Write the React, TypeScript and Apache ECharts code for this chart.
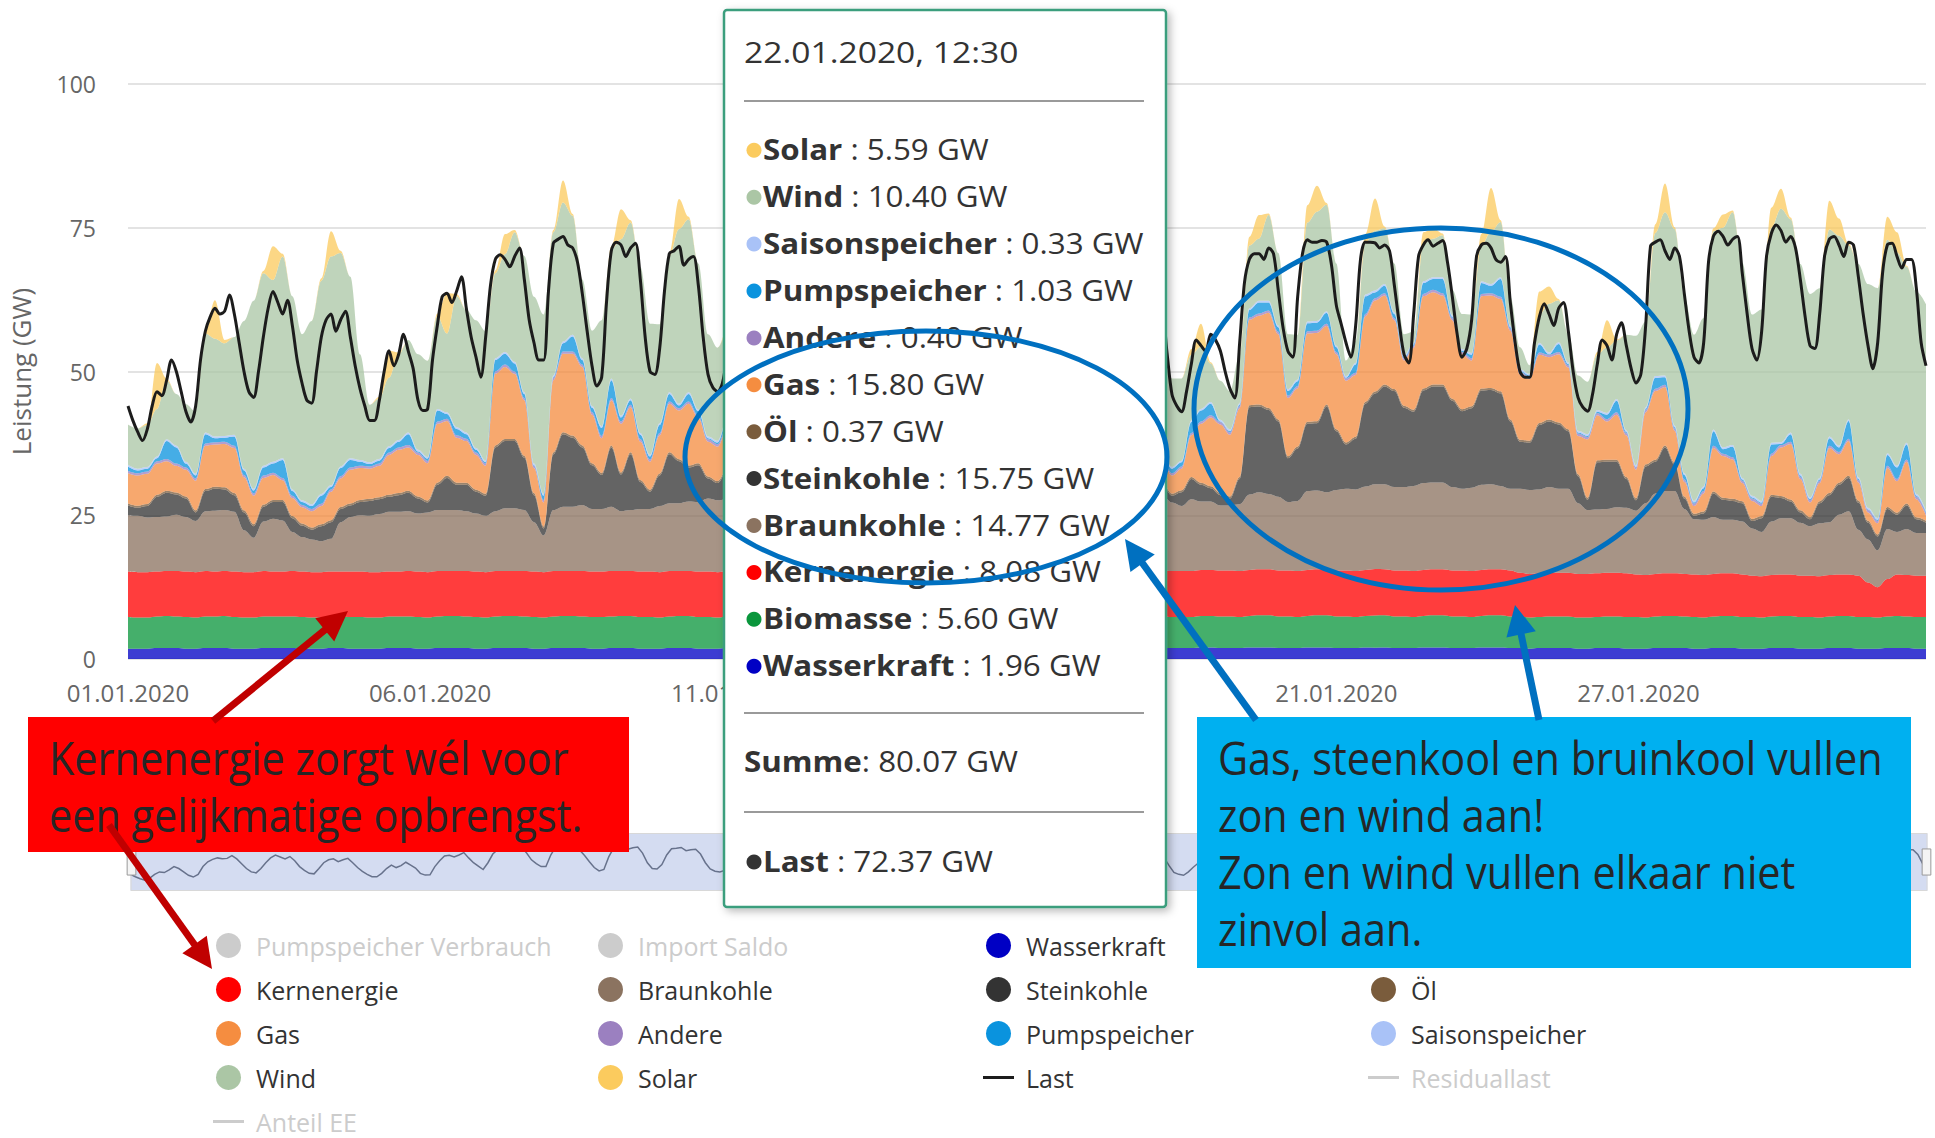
import React, { useEffect, useRef } from 'react';
import * as echarts from 'echarts';

const FONT = '"Open Sans", "Noto Sans", sans-serif';

// ---------- axis data ----------
const STEP_H = 4;            // hours between samples of the stacked series
const LAST_STEP_H = 2;       // hours between samples of the "Last" line
const X_MAX = 744;           // hours in January 2020
const X_TICK_INTERVAL = 125; // hours between the date ticks
const xTickLabels = ['01.01.2020', '06.01.2020', '11.01.2020', '16.01.2020', '21.01.2020', '27.01.2020'];

// ---------- series values (GW), one row per day: 00,04,08,12,16,20 h ----------
const wasserkraft = [
1.8,1.8,1.8,1.9,1.9,1.9, 1.8,1.8,1.9,1.9,1.9,1.8, 1.8,1.8,1.9,1.9,1.9,1.9, 1.8,1.8,1.8,1.9,1.9,1.8,
1.8,1.8,1.8,1.9,1.9,1.9, 1.8,1.8,1.9,1.9,1.9,1.9, 1.8,1.8,1.9,1.9,1.9,1.9, 1.8,1.8,1.9,1.9,1.9,1.9,
1.8,1.8,1.9,1.9,1.9,1.8, 1.8,1.8,1.9,1.9,1.9,1.8, 1.8,1.8,1.9,1.9,1.9,1.9, 1.9,1.9,1.9,2.0,2.0,1.9,
1.9,1.9,2.0,2.0,2.0,2.0, 1.9,1.9,2.0,2.0,2.0,1.9, 1.9,1.9,2.0,2.0,2.0,1.9, 1.9,1.9,2.0,2.0,2.0,1.9,
1.9,1.9,2.0,2.0,2.0,1.9, 1.9,1.9,1.9,2.0,2.0,1.9, 1.9,1.9,1.9,2.0,2.0,1.9, 1.9,1.9,2.0,2.0,2.0,1.9,
1.9,1.9,2.0,2.0,2.0,1.9, 1.9,1.9,2.0,1.96,2.0,1.9, 1.9,1.9,2.0,2.0,2.0,1.9, 1.9,1.9,2.0,2.0,2.0,1.9,
1.9,1.8,1.9,1.9,1.9,1.9, 1.8,1.8,1.9,1.9,1.9,1.8, 1.8,1.8,1.9,1.9,1.9,1.9, 1.8,1.8,1.9,1.9,1.9,1.8,
1.8,1.8,1.9,1.9,1.9,1.8, 1.8,1.8,1.9,1.9,1.9,1.8, 1.8,1.8,1.9,1.9,1.9,1.8,
1.8];

const biomasse = [
5.5,5.4,5.4,5.5,5.6,5.5, 5.5,5.4,5.5,5.5,5.6,5.5, 5.4,5.4,5.5,5.5,5.5,5.5, 5.5,5.4,5.4,5.5,5.5,5.5,
5.5,5.4,5.4,5.5,5.5,5.5, 5.5,5.4,5.5,5.6,5.6,5.5, 5.5,5.4,5.5,5.6,5.6,5.5, 5.5,5.4,5.5,5.6,5.6,5.5,
5.5,5.5,5.5,5.6,5.6,5.5, 5.5,5.4,5.5,5.6,5.6,5.5, 5.5,5.4,5.5,5.5,5.5,5.5, 5.4,5.4,5.4,5.5,5.5,5.5,
5.5,5.4,5.5,5.6,5.6,5.5, 5.5,5.5,5.5,5.6,5.6,5.5, 5.5,5.4,5.5,5.6,5.6,5.5, 5.5,5.4,5.5,5.6,5.6,5.5,
5.5,5.4,5.5,5.6,5.6,5.5, 5.5,5.4,5.4,5.5,5.5,5.5, 5.4,5.4,5.4,5.5,5.5,5.5, 5.5,5.4,5.5,5.6,5.6,5.5,
5.5,5.4,5.5,5.6,5.6,5.5, 5.5,5.4,5.5,5.60,5.6,5.5, 5.5,5.4,5.5,5.6,5.6,5.5, 5.5,5.4,5.5,5.6,5.6,5.5,
5.5,5.4,5.4,5.5,5.5,5.5, 5.4,5.4,5.4,5.5,5.5,5.5, 5.5,5.4,5.5,5.6,5.6,5.5, 5.5,5.4,5.5,5.6,5.6,5.5,
5.5,5.4,5.5,5.6,5.6,5.5, 5.5,5.4,5.5,5.6,5.6,5.5, 5.5,5.4,5.5,5.6,5.5,5.5,
5.5];

const kernenergie = [
7.9,7.9,7.9,7.8,7.8,7.9, 7.9,7.9,7.9,7.8,7.8,7.9, 7.9,7.9,7.9,7.8,7.8,7.9, 7.9,7.9,7.9,7.8,7.8,7.9,
7.9,7.9,7.9,7.8,7.8,7.9, 7.9,7.9,7.9,7.8,7.8,7.9, 7.9,7.9,7.9,7.8,7.8,7.9, 7.9,7.9,7.9,7.8,7.8,7.9,
7.9,7.9,7.9,7.8,7.8,7.9, 7.9,7.9,7.9,7.8,7.8,7.9, 7.9,7.9,7.9,7.8,7.8,7.9, 8.0,8.0,8.0,8.0,8.0,8.0,
8.0,8.0,8.0,8.0,8.0,8.0, 8.0,8.0,8.0,8.0,8.0,8.0, 8.0,8.0,8.0,8.0,8.0,8.0, 8.0,8.0,8.0,8.0,8.0,8.0,
8.0,8.0,8.0,8.0,8.0,8.0, 8.0,8.0,8.0,8.0,8.0,8.0, 8.0,8.0,8.0,8.0,8.0,8.0, 8.0,8.0,8.0,8.0,8.0,8.0,
8.0,8.0,8.0,8.0,8.0,8.0, 8.0,8.0,8.0,8.08,8.0,8.0, 8.0,8.0,8.0,8.0,8.0,8.0, 8.0,8.0,8.0,8.0,8.0,8.0,
7.6,7.6,7.6,7.6,7.6,7.6, 7.6,7.6,7.6,7.6,7.6,7.6, 7.4,7.4,7.4,7.4,7.4,7.4, 7.4,7.4,7.4,7.4,7.4,7.4,
7.2,7.2,7.2,7.2,7.2,7.2, 7.2,7.2,7.2,7.2,7.2,7.2, 6.0,5.3,6.5,7.2,7.2,7.2,
7.2];

const braunkohle = [
9.8,9.8,9.5,9.5,9.5,9.8, 9.5,8.9,10.4,10.6,10.6,10.4, 7.3,6.0,8.6,9.2,8.9,6.8, 6.0,5.7,5.4,5.7,8.6,9.5,
9.8,9.8,10.1,10.4,10.4,10.4, 10.1,10.4,10.6,10.6,10.6,10.4, 10.1,9.8,10.4,10.9,10.9,10.6, 8.6,6.4,10.6,11.2,11.2,11.5,
10.9,10.9,11.2,10.4,10.6,10.9, 10.9,11.5,11.8,11.8,12.1,12.1, 12.7,12.5,12.5,12.6,12.4,12.3, 11.5,11.0,11.2,11.5,11.6,11.8,
12.0,12.2,13.0,13.3,13.2,13.0, 13.0,13.1,13.5,13.6,13.5,13.2, 13.1,13.0,13.4,13.6,13.5,13.3, 13.0,12.9,13.3,13.5,13.4,13.1,
12.8,12.6,13.0,13.2,13.0,12.7, 12.5,12.2,12.6,12.8,12.9,13.1, 11.9,11.3,12.5,11.9,11.9,11.3, 11.3,11.6,13.1,13.4,13.1,12.8,
11.9,12.2,13.7,13.7,13.4,14.0, 14.2,14.2,14.5,14.77,14.8,14.5, 14.5,14.8,15.1,15.1,15.1,14.5, 14.2,14.5,14.8,14.8,14.5,14.2,
14.6,14.6,14.6,14.9,14.6,14.6, 12.3,11.1,11.1,11.1,11.4,11.4, 11.1,12.5,14.0,14.3,14.3,11.3, 9.6,9.6,9.9,9.3,9.3,9.2,
8.2,7.7,9.3,9.8,9.8,9.2, 8.6,9.2,9.2,10.4,11.0,8.0, 7.5,6.4,8.7,7.4,8.0,7.4,
7.4];

const steinkohle = [
1.7,1.4,2.0,3.5,4.1,3.5, 3.2,1.5,3.5,3.8,3.6,2.9, 3.1,2.0,2.6,2.9,3.2,2.4, 2.0,1.7,2.6,2.9,2.3,2.0,
2.3,2.6,2.6,2.6,2.9,3.2, 2.6,1.7,4.4,5.6,4.4,4.6, 3.8,3.5,11.1,11.7,11.7,9.1, 4.7,1.2,9.7,12.6,12.0,10.0,
7.6,5.9,10.3,6.4,9.7,4.7, 3.0,5.3,8.5,7.3,5.9,6.4, 3.5,3.0,5.0,6.0,5.5,4.5, 3.0,2.5,3.0,4.0,4.5,4.0,
3.5,4.5,10.0,12.0,12.0,10.0, 6.0,7.0,12.5,14.0,13.5,11.0, 7.0,7.5,13.0,14.0,13.5,11.0, 7.0,7.0,12.5,13.5,13.0,10.5,
6.5,6.5,11.5,12.5,12.0,9.0, 4.5,3.5,4.0,4.5,4.0,1.7, 1.2,2.4,3.5,2.9,2.3,1.8, 1.2,4.4,15.2,14.9,14.6,13.1,
7.6,9.1,11.7,11.7,14.9,10.2, 7.7,8.8,14.4,15.75,17.0,16.7, 13.8,12.9,16.1,16.7,16.7,15.0, 13.5,13.8,16.4,16.4,16.1,11.7,
8.2,8.2,11.2,11.4,11.2,10.0, 4.7,1.8,8.2,8.2,7.9,5.0, 1.8,6.4,5.5,7.6,4.6,1.8, 0.6,1.1,4.1,3.5,3.3,3.2,
1.3,2.4,4.3,3.5,2.9,1.8, 1.2,3.5,4.7,5.2,5.8,4.7, 2.9,2.4,3.5,3.0,4.1,2.4,
1.8];

const oel = [
0.35,0.35,0.35,0.35,0.35,0.35, 0.35,0.35,0.35,0.35,0.35,0.35, 0.35,0.35,0.35,0.35,0.35,0.35, 0.35,0.35,0.35,0.35,0.35,0.35,
0.35,0.35,0.35,0.35,0.35,0.35, 0.35,0.35,0.35,0.35,0.35,0.35, 0.35,0.35,0.35,0.35,0.35,0.35, 0.35,0.35,0.35,0.35,0.35,0.35,
0.35,0.35,0.35,0.35,0.35,0.35, 0.35,0.35,0.35,0.35,0.35,0.35, 0.35,0.35,0.35,0.35,0.35,0.35, 0.35,0.35,0.35,0.35,0.35,0.35,
0.35,0.35,0.35,0.35,0.35,0.35, 0.35,0.35,0.35,0.35,0.35,0.35, 0.35,0.35,0.35,0.35,0.35,0.35, 0.35,0.35,0.35,0.35,0.35,0.35,
0.35,0.35,0.35,0.35,0.35,0.35, 0.35,0.35,0.35,0.35,0.35,0.35, 0.35,0.35,0.35,0.35,0.35,0.35, 0.35,0.35,0.35,0.35,0.35,0.35,
0.35,0.35,0.35,0.35,0.35,0.35, 0.35,0.35,0.35,0.37,0.35,0.35, 0.35,0.35,0.35,0.35,0.35,0.35, 0.35,0.35,0.35,0.35,0.35,0.35,
0.35,0.35,0.35,0.35,0.35,0.35, 0.35,0.35,0.35,0.35,0.35,0.35, 0.35,0.35,0.35,0.35,0.35,0.35, 0.35,0.35,0.35,0.35,0.35,0.35,
0.35,0.35,0.35,0.35,0.35,0.35, 0.35,0.35,0.35,0.35,0.35,0.35, 0.35,0.35,0.35,0.35,0.35,0.35,
0.35];

const gas = [
5.25,5.25,5.25,5.45,5.15,4.65, 4.65,5.15,7.55,7.35,7.55,7.85, 5.75,4.95,4.65,4.35,3.45,3.15, 2.85,2.85,3.15,4.95,4.95,5.85,
5.55,5.25,5.45,6.95,7.55,7.55, 7.25,6.5,10.25,9.55,7.85,7.25, 6.05,4.85,12.45,12.55,11.35,9.65, 4.35,4.15,12.55,13.65,14.25,13.65,
8.45,6.05,7.85,8.45,7.85,6.65, 4.85,6.65,8.45,8.45,10.75,7.85, 6.05,6.0,7.0,8.0,7.5,6.5, 5.5,5.0,5.5,6.0,6.5,6.0,
5.5,6.5,11.0,12.5,12.0,10.0, 8.0,8.5,13.0,14.0,13.5,11.0, 8.5,9.0,13.5,14.0,13.5,11.5, 8.5,8.5,13.0,13.5,13.0,11.0,
8.0,8.0,12.0,12.5,12.0,9.5, 6.0,5.0,5.5,6.0,5.5,3.75, 3.15,3.75,7.25,10.25,11.95,11.95, 10.75,11.95,14.85,15.45,16.55,14.85,
10.15,10.15,15.35,15.35,13.65,13.05, 10.75,10.75,14.85,15.8,15.45,11.95, 7.85,10.75,16.05,16.05,15.45,13.65, 9.55,7.95,16.05,16.05,16.05,15.45,
11.35,10.75,11.85,10.85,11.85,10.75, 6.65,10.15,7.85,6.65,7.85,7.25, 4.95,9.05,11.95,10.15,5.55,2.55, 1.35,3.15,7.55,7.25,6.85,3.15,
3.15,1.75,6.75,8.45,9.65,5.45, 2.55,3.15,7.85,4.95,6.05,3.15, 1.45,1.95,6.75,5.45,7.25,3.15,
0.85];

const andere = [
0.4,0.4,0.4,0.4,0.4,0.4, 0.4,0.4,0.4,0.4,0.4,0.4, 0.4,0.4,0.4,0.4,0.4,0.4, 0.4,0.4,0.4,0.4,0.4,0.4,
0.4,0.4,0.4,0.4,0.4,0.4, 0.4,0.4,0.4,0.4,0.4,0.4, 0.4,0.4,0.4,0.4,0.4,0.4, 0.4,0.4,0.4,0.4,0.4,0.4,
0.4,0.4,0.4,0.4,0.4,0.4, 0.4,0.4,0.4,0.4,0.4,0.4, 0.4,0.4,0.4,0.4,0.4,0.4, 0.4,0.4,0.4,0.4,0.4,0.4,
0.4,0.4,0.4,0.4,0.4,0.4, 0.4,0.4,0.4,0.4,0.4,0.4, 0.4,0.4,0.4,0.4,0.4,0.4, 0.4,0.4,0.4,0.4,0.4,0.4,
0.4,0.4,0.4,0.4,0.4,0.4, 0.4,0.4,0.4,0.4,0.4,0.4, 0.4,0.4,0.4,0.4,0.4,0.4, 0.4,0.4,0.4,0.4,0.4,0.4,
0.4,0.4,0.4,0.4,0.4,0.4, 0.4,0.4,0.4,0.40,0.4,0.4, 0.4,0.4,0.4,0.4,0.4,0.4, 0.4,0.4,0.4,0.4,0.4,0.4,
0.4,0.4,0.4,0.4,0.4,0.4, 0.4,0.4,0.4,0.4,0.4,0.4, 0.4,0.4,0.4,0.4,0.4,0.4, 0.4,0.4,0.4,0.4,0.4,0.4,
0.4,0.4,0.4,0.4,0.4,0.4, 0.4,0.4,0.4,0.4,0.4,0.4, 0.4,0.4,0.4,0.4,0.4,0.4,
0.4];

const pumpspeicher = [
0.8,0.5,0.5,0.5,3.1,2.8, 0.7,0.5,1.6,0.7,0.7,1.6, 0.8,0.5,1.4,1.6,3.1,0.8, 0.5,0.5,1.4,0.4,1.4,1.3,
0.7,0.4,0.5,0.8,1.0,1.9, 0.2,0.4,1.9,0.8,1.1,0.8, 0.5,0.2,2.0,1.9,1.4,0.7, 0.1,0.8,0.1,1.4,2.6,0.8,
0.8,1.4,3.1,0.7,0.8,0.8, 0.5,1.4,1.3,0.5,1.3,0.8, 0.2,0.3,1.0,0.8,1.2,0.8, 0.3,0.2,0.5,0.8,1.0,0.9,
0.3,0.3,1.8,1.0,1.5,1.2, 0.3,0.4,2.0,1.2,1.8,1.0, 0.3,0.3,1.9,1.0,1.6,1.1, 0.3,0.4,2.1,1.1,1.7,1.0,
0.3,0.3,1.8,0.9,1.4,0.8, 0.3,0.2,0.6,0.7,0.9,0.8, 0.8,0.7,1.9,1.9,2.0,0.1, 0.2,0.2,1.3,1.9,1.4,0.8,
0.8,0.8,1.4,1.4,1.9,0.8, 0.1,1.4,3.1,1.03,1.3,0.7, 0.2,0.2,1.9,1.9,2.5,0.2, 0.2,0.6,1.9,1.3,3.1,0.2,
0.2,0.2,1.4,0.1,1.4,0.2, 0.2,0.2,0.2,0.8,2.0,0.2, 0.1,0.2,1.9,1.3,0.2,0.8, 0.2,0.5,2.5,0.8,1.8,0.2,
0.2,0.2,1.6,0.2,1.3,0.2, 0.2,0.2,1.3,0.8,3.1,0.2, 0.1,0.2,1.9,2.0,2.6,0.2,
0.2];

const saisonspeicher = [
0.3,0.3,0.3,0.3,0.3,0.3, 0.3,0.3,0.3,0.3,0.3,0.3, 0.3,0.3,0.3,0.3,0.3,0.3, 0.3,0.3,0.3,0.3,0.3,0.3,
0.3,0.3,0.3,0.3,0.3,0.3, 0.3,0.3,0.3,0.3,0.3,0.3, 0.3,0.3,0.3,0.3,0.3,0.3, 0.3,0.3,0.3,0.3,0.3,0.3,
0.3,0.3,0.3,0.3,0.3,0.3, 0.3,0.3,0.3,0.3,0.3,0.3, 0.3,0.3,0.3,0.3,0.3,0.3, 0.3,0.3,0.3,0.3,0.3,0.3,
0.3,0.3,0.3,0.3,0.3,0.3, 0.3,0.3,0.3,0.3,0.3,0.3, 0.3,0.3,0.3,0.3,0.3,0.3, 0.3,0.3,0.3,0.3,0.3,0.3,
0.3,0.3,0.3,0.3,0.3,0.3, 0.3,0.3,0.3,0.3,0.3,0.3, 0.3,0.3,0.3,0.3,0.3,0.3, 0.3,0.3,0.3,0.3,0.3,0.3,
0.3,0.3,0.3,0.3,0.3,0.3, 0.3,0.3,0.3,0.33,0.3,0.3, 0.3,0.3,0.3,0.3,0.3,0.3, 0.3,0.3,0.3,0.3,0.3,0.3,
0.3,0.3,0.3,0.3,0.3,0.3, 0.3,0.3,0.3,0.3,0.3,0.3, 0.3,0.3,0.3,0.3,0.3,0.3, 0.3,0.3,0.3,0.3,0.3,0.3,
0.3,0.3,0.3,0.3,0.3,0.3, 0.3,0.3,0.3,0.3,0.3,0.3, 0.3,0.3,0.3,0.3,0.3,0.3,
0.3];

const wind = [
7.0,7.0,7.3,8.3,10.3,9.0, 10.0,10.8,17.2,17.0,16.1,17.0, 25.7,32.7,33.5,31.6,35.1,33.6, 28.9,31.9,37.1,39.8,37.1,31.6,
18.4,10.0,10.5,11.9,14.9,16.1, 16.6,16.7,16.1,13.7,22.8,21.3, 22.2,22.5,14.8,17.0,22.5,23.7, 29.0,31.2,24.9,24.2,20.7,13.7,
13.1,18.4,22.5,30.7,30.6,28.9, 22.8,17.2,23.7,30.4,30.1,25.4, 17.8,16.2,15.0,16.0,17.0,18.0, 22.0,22.0,20.0,18.0,17.0,18.0,
20.0,18.0,15.0,13.0,12.0,13.0, 14.0,13.0,11.0,10.0,11.0,12.0, 12.0,12.0,10.0,10.0,11.0,11.0, 11.0,11.0,10.0,11.0,12.0,12.0,
13.0,13.0,13.0,14.0,14.0,15.0, 16.0,16.0,17.0,17.0,17.0,16.1, 15.4,14.3,11.4,10.8,6.7,6.8, 6.7,8.4,10.9,10.8,14.9,12.6,
9.6,7.8,17.2,19.0,18.5,14.3, 2.7,3.8,9.0,10.4,9.7,8.5, 3.7,1.9,6.7,6.7,7.3,4.4, 6.1,6.7,6.2,9.1,9.6,5.0,
3.8,1.5,4.9,8.5,7.3,4.9, 9.6,9.1,9.6,11.4,10.2,16.6, 22.5,14.9,24.9,28.4,34.2,30.7, 28.9,29.3,34.5,38.2,40.5,37.4,
31.5,33.3,37.4,40.6,37.1,36.5, 35.4,33.0,36.0,36.5,30.2,37.1, 38.9,40.0,37.1,37.1,30.6,35.2,
35.9];

const solar = [
0,0,0.3,8.0,0.3,0, 0,0,0.6,6.7,0.6,0, 0,0,0.4,5.9,0.5,0, 0,0,0.4,4.4,0.4,0,
0,0,0.3,4.7,0.3,0, 0,0,0.5,7.0,0.4,0, 0,0,0.5,3.5,0.4,0, 0,0,0.4,3.8,0.3,0,
0,0,0.5,5.2,0.4,0, 0,0,0.5,5.2,0.4,0, 0,0,0.5,4.0,0.4,0, 0,0,0.4,3.0,0.3,0,
0,0,0.4,4.0,0.3,0, 0,0,0.5,5.0,0.4,0, 0,0,0.4,3.5,0.3,0, 0,0,0.5,4.5,0.4,0,
0,0,0.4,4.0,0.3,0, 0,0,0.5,4.5,0.3,0, 0,0,1.0,4.0,0.2,0, 0,0,1.5,4.1,0.3,0,
0,0,3.0,4.5,0.3,0, 0,0,1.5,5.59,0.3,0, 0,0,1.8,1.8,0.3,0, 0,0,2.0,7.6,0.3,0,
0,0,4.0,3.0,0.2,0, 0,0,0.5,4.7,0.2,0, 0,0,1.5,5.0,0.3,0, 0,0,0.5,2.3,0.3,0,
0,0,3.5,3.5,0.3,0, 0,0,5.0,3.0,0.3,0, 0,0,4.0,3.5,0.2,0,
0];

// Last (load), one row per day: every 2 hours
const last = [
44,41.5,39.5,38,40,44,46.5,45.8,48.5,52,50,46.5,
43,41.2,44,52,57,59.5,61,60,60.5,63.3,60,55,
50,46.5,45.5,50,56,61,63.9,62,60,62.4,58,52,
48,45,44.5,50,56,59,60,57,59,60.5,56,51,
47,44,41.5,41.5,45,50,53.6,51,53,56.5,53.5,50.5,
45,43.2,43.5,52,58,63,63.6,62,64,66.5,61,56,
52.5,49,56,65,69.5,70.3,69.5,68.2,70,71.5,66,59,
55,52,52,64,72.3,73,73.5,72,71.5,69,63.5,57,
51,47.5,49,62,71,72.5,72,70,71.5,72.3,66,56,
50,49.5,54,64,70.5,71,71.8,68.5,69.5,70,65,56,
49.5,47.2,46.5,48,53,58,61,60,59,61,59,54,
50,46.5,45,46,49,53,56,55,55,58,56,52,
48,46.5,51,62,70,71,72,70.5,70,71.5,66,58,
54,51.5,54,65,71,72.5,73,71.5,71,72,67,59,
54,52,55,66,72,73,72.5,71,71.5,72,66.5,59,
54,52,55,66,71.5,72.5,72.5,71,71,71.5,66,58.5,
54,51.5,54.5,65,70.5,71.5,71,69.5,69,69,63.5,56.5,
52,49,48.5,52,58,61,62,60.5,61,62,61,53,
46,44,43,46.5,51.3,55.5,54.5,53.5,56.5,55.5,53.6,50,
47,45.4,55,65.5,69.5,70.5,70.5,69.5,71.5,70.5,64,57.5,
53.5,52.5,63,70.5,72.9,72.5,72.5,72.8,72.5,68.5,61.5,58.3,
55,52.5,58,69.5,72.5,72.5,72.37,71.5,72,71,65,58.5,
53,51.5,60,70,72,72.9,71.8,72.3,72.8,69,63,56.5,
52.5,54,59,70,72,72.3,71.5,69.5,69,70,62,55,
50,49,49,55,59.5,61.8,60,58,61,62,57,50,
45.5,43.8,43.1,46,51.3,55.5,54.5,52,56.5,58.5,54.5,50.5,
48,49.5,58,71.8,72.5,72.9,71,69.5,71.5,70,63.5,57,
52.5,51.5,55,69,73.5,74.4,73.5,72,73,73.5,67,60,
54,52,57,70,74,75.5,74.5,72.5,73.5,71.5,66,59.5,
54.5,54,60,70,73,73.5,72,70,72.5,72,66.5,60,
54.5,50.5,55,67,72,72.3,70,68,69.5,69.5,64.5,55,
51];

// tooltip shown in the picture
const tooltipTitle = '22.01.2020, 12:30';
const tooltipIndex = 129;      // 22.01.2020 12:00 in the 4-hour series
const tooltipLastIndex = 258;  // same moment in the 2-hour series
const tooltipSum = 80.07;

const stackSeries = [
  { name: 'Wasserkraft', data: wasserkraft, color: '#0000c4' },
  { name: 'Biomasse', data: biomasse, color: '#0a963c' },
  { name: 'Kernenergie', data: kernenergie, color: '#ff0000' },
  { name: 'Braunkohle', data: braunkohle, color: '#8b7360' },
  { name: 'Steinkohle', data: steinkohle, color: '#333333' },
  { name: 'Öl', data: oel, color: '#7a5c3c' },
  { name: 'Gas', data: gas, color: '#f58d40' },
  { name: 'Andere', data: andere, color: '#9b80c0' },
  { name: 'Pumpspeicher', data: pumpspeicher, color: '#0a93de' },
  { name: 'Saisonspeicher', data: saisonspeicher, color: '#a9c2f7' },
  { name: 'Wind', data: wind, color: '#abc6a5' },
  { name: 'Solar', data: solar, color: '#fbcb5e' },
];

const legendColumns = [
  ['Pumpspeicher Verbrauch', 'Kernenergie', 'Gas', 'Wind', 'Anteil EE'],
  ['Import Saldo', 'Braunkohle', 'Andere', 'Solar'],
  ['Wasserkraft', 'Steinkohle', 'Pumpspeicher', 'Last'],
  ['Biomasse', 'Öl', 'Saisonspeicher', 'Residuallast'],
];
const lineNames = ['Last', 'Residuallast', 'Anteil EE'];
const hiddenNames = ['Pumpspeicher Verbrauch', 'Import Saldo', 'Residuallast', 'Anteil EE'];

function arrow(x1: number, y1: number, x2: number, y2: number, color: string, w: number, headL: number, headW: number, z: number) {
  const dx = x2 - x1, dy = y2 - y1;
  const len = Math.hypot(dx, dy);
  const ux = dx / len, uy = dy / len;
  const bx = x2 - ux * headL, by = y2 - uy * headL;
  const px = -uy, py = ux;
  return [
    { type: 'line', z, shape: { x1, y1, x2: bx + ux * 2, y2: by + uy * 2 }, style: { stroke: color, lineWidth: w } },
    { type: 'polygon', z, shape: { points: [[x2, y2], [bx + px * headW / 2, by + py * headW / 2], [bx - px * headW / 2, by - py * headW / 2]] }, style: { fill: color } },
  ];
}

function buildOption() {
  const series: any[] = [];
  series.push({
    type: 'line', name: 'Last', z: 5,
    data: last.map((v, i) => [i * LAST_STEP_H, v]),
    symbol: 'none', showSymbol: false, smooth: 0.3,
    lineStyle: { color: '#1c1c1c', width: 3 },
    itemStyle: { color: '#1c1c1c' },
    emphasis: { disabled: true },
  });
  stackSeries.forEach((s) => {
    series.push({
      type: 'line', name: s.name, stack: 'erzeugung', z: 2,
      // value first so that the stack is built on the y (GW) dimension
      data: s.data.map((v, i) => [v, i * STEP_H]),
      encode: { x: 1, y: 0 },
      symbol: 'none', showSymbol: false, smooth: 0.35, smoothMonotone: 'x',
      lineStyle: { width: 0, opacity: 0 },
      itemStyle: { color: s.color },
      areaStyle: { color: s.color, opacity: 0.76 },
      emphasis: { disabled: true },
    });
  });
  hiddenNames.forEach((n) => {
    series.push({ type: 'line', name: n, data: [], symbol: 'none', itemStyle: { color: '#999' }, lineStyle: { color: '#999' } });
  });

  const selected: Record<string, boolean> = {};
  hiddenNames.forEach((n) => { selected[n] = false; });

  const colLeft = [213, 598, 983, 1368];
  const legends = legendColumns.map((col, ci) => ({
    orient: 'vertical', left: colLeft[ci], top: 933, height: 260, padding: 0,
    itemWidth: 31, itemHeight: 25, itemGap: 19,
    selected,
    inactiveColor: '#cccccc',
    textStyle: { fontSize: 25, color: '#333', fontFamily: FONT, lineHeight: 25, padding: [0, 0, 0, 7] },
    data: col.map((n) => ({ name: n, icon: lineNames.includes(n) ? 'path://M0,0L31,0L31,3L0,3Z' : 'circle' })),
  }));

  // ----- graphic overlays -----
  const g: any[] = [];
  const tx = 724, ty = 10, tw = 442, th = 897;
  g.push({ type: 'rect', z: 50, shape: { x: tx, y: ty, width: tw, height: th, r: 3 },
    style: { fill: '#ffffff', stroke: '#3b9e7d', lineWidth: 2.5, shadowBlur: 8, shadowColor: 'rgba(0,0,0,0.28)', shadowOffsetX: 3, shadowOffsetY: 3 } });
  g.push({ type: 'text', z: 51, x: 744, y: 51, scaleX: 1.12,
    style: { text: tooltipTitle, fontSize: 30, fontFamily: FONT, fill: '#333', verticalAlign: 'middle', align: 'left' } });
  [101, 713, 812].forEach((yy) => {
    g.push({ type: 'line', z: 51, shape: { x1: 744, y1: yy, x2: 1144, y2: yy }, style: { stroke: '#9a9a9a', lineWidth: 2 } });
  });
  const ttOrder = ['Solar', 'Wind', 'Saisonspeicher', 'Pumpspeicher', 'Andere', 'Gas', 'Öl', 'Steinkohle', 'Braunkohle', 'Kernenergie', 'Biomasse', 'Wasserkraft'];
  const rich = { b: { fontWeight: 'bold', fontSize: 29, fontFamily: FONT, fill: '#333' } };
  const rowScale = 1.08;
  ttOrder.forEach((name, i) => {
    const s = stackSeries.find((q) => q.name === name)!;
    const yy = 149.3 + i * 46.9;
    g.push({ type: 'circle', z: 51, shape: { cx: 754, cy: yy + 1, r: 7.5 }, style: { fill: s.color } });
    g.push({ type: 'text', z: 51, x: 763, y: yy, scaleX: rowScale,
      style: { text: `{b|${name}} : ${s.data[tooltipIndex].toFixed(2)} GW`, rich, fontSize: 29, fontFamily: FONT, fill: '#333', verticalAlign: 'middle', align: 'left' } });
  });
  g.push({ type: 'text', z: 51, x: 744, y: 761, scaleX: rowScale,
    style: { text: `{b|Summe}: ${tooltipSum.toFixed(2)} GW`, rich, fontSize: 29, fontFamily: FONT, fill: '#333', verticalAlign: 'middle', align: 'left' } });
  g.push({ type: 'circle', z: 51, shape: { cx: 754, cy: 862, r: 7.5 }, style: { fill: '#333' } });
  g.push({ type: 'text', z: 51, x: 763, y: 861, scaleX: rowScale,
    style: { text: `{b|Last} : ${last[tooltipLastIndex].toFixed(2)} GW`, rich, fontSize: 29, fontFamily: FONT, fill: '#333', verticalAlign: 'middle', align: 'left' } });

  // ellipses
  g.push({ type: 'ellipse', z: 60, shape: { cx: 926, cy: 457, rx: 241, ry: 126 }, style: { fill: 'rgba(0,0,0,0)', stroke: '#0070c0', lineWidth: 5 } });
  g.push({ type: 'ellipse', z: 60, shape: { cx: 1441, cy: 409, rx: 247, ry: 181 }, style: { fill: 'rgba(0,0,0,0)', stroke: '#0070c0', lineWidth: 5 } });

  // annotation boxes
  g.push({ type: 'rect', z: 70, shape: { x: 28, y: 717, width: 601, height: 135 }, style: { fill: '#ff0000' } });
  ['Kernenergie zorgt wél voor', 'een gelijkmatige opbrengst.'].forEach((t, i) => {
    g.push({ type: 'text', z: 71, x: 49, y: 757 + i * 57, scaleX: 0.9,
      style: { text: t, fontSize: 46, fontFamily: FONT, fill: '#262626', verticalAlign: 'middle', align: 'left' } });
  });
  g.push({ type: 'rect', z: 70, shape: { x: 1197, y: 717, width: 714, height: 251 }, style: { fill: '#00b0f0' } });
  ['Gas, steenkool en bruinkool vullen', 'zon en wind aan!', 'Zon en wind vullen elkaar niet', 'zinvol aan.'].forEach((t, i) => {
    g.push({ type: 'text', z: 71, x: 1218, y: 757 + i * 57, scaleX: 0.9,
      style: { text: t, fontSize: 46, fontFamily: FONT, fill: '#262626', verticalAlign: 'middle', align: 'left' } });
  });

  // arrows
  g.push(...arrow(213, 721, 348, 611, '#c00000', 7, 30, 30, 80));
  g.push(...arrow(109, 825, 212, 969, '#c00000', 7, 30, 30, 80));
  g.push(...arrow(1256, 720, 1125, 539, '#0070c0', 7, 30, 30, 80));
  g.push(...arrow(1539, 720, 1515, 605, '#0070c0', 7, 30, 30, 80));

  return {
    animation: false,
    backgroundColor: '#ffffff',
    textStyle: { fontFamily: FONT },
    grid: { left: 128, right: 9, top: 84, bottom: 479 },
    xAxis: {
      type: 'value', min: 0, max: X_MAX, interval: X_TICK_INTERVAL,
      axisLine: { show: false }, axisTick: { show: false }, splitLine: { show: false },
      axisLabel: {
        color: '#666', fontSize: 24, margin: 21, showMaxLabel: false,
        formatter: (v: number) => (v % X_TICK_INTERVAL === 0 && xTickLabels[v / X_TICK_INTERVAL]) || '',
      },
    },
    yAxis: {
      type: 'value', min: 0, max: 100, interval: 25,
      name: 'Leistung (GW)', nameLocation: 'middle', nameGap: 94,
      nameTextStyle: { color: '#666', fontSize: 26 },
      axisLine: { show: false }, axisTick: { show: false },
      axisLabel: { color: '#666', fontSize: 23, margin: 32 },
      splitLine: { lineStyle: { color: '#e3e3e3', width: 2 } },
    },
    dataZoom: [{
      type: 'slider', xAxisIndex: 0, filterMode: 'none', start: 0, end: 100,
      left: 128, right: 10, top: 833, height: 58,
      showDetail: false, brushSelect: false, moveHandleSize: 0,
      backgroundColor: 'rgba(0,0,0,0)', borderColor: '#d8d8d8',
      fillerColor: 'rgba(160,178,224,0.45)',
      handleIcon: 'path://M0,0L8,0L8,24L0,24Z', handleSize: '45%',
      handleStyle: { color: '#f4f4f4', borderColor: '#999', borderWidth: 1 },
      dataBackground: { lineStyle: { color: '#3a3f48', width: 1.5, opacity: 1 }, areaStyle: { opacity: 0 } },
      selectedDataBackground: { lineStyle: { color: '#3a3f48', width: 1.5, opacity: 1 }, areaStyle: { opacity: 0 } },
    }],
    legend: legends,
    series,
    graphic: { elements: g },
  };
}

export default function App() {
  const ref = useRef<HTMLDivElement>(null);
  useEffect(() => {
    if (!ref.current) return;
    const chart = echarts.init(ref.current, null, { renderer: 'svg' });
    chart.setOption(buildOption() as any);
    return () => chart.dispose();
  }, []);
  return <div ref={ref} style={{ position: 'absolute', left: 0, top: 0, width: 1935, height: 1138 }} />;
}
